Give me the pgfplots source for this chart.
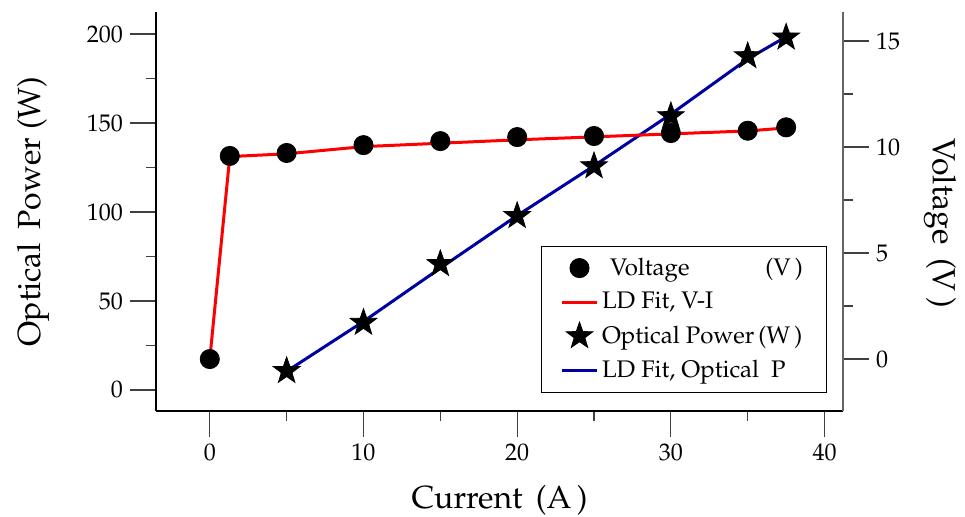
\documentclass[border=0pt]{standalone}
\usepackage[T1]{fontenc}
\usepackage{mathpazo}
\usepackage{pgfplots}
\usepackage{pgfplotstable}
\pgfplotsset{compat=1.18}

\definecolor{FitRed}{RGB}{255,0,0}
\definecolor{FitBlue}{RGB}{0,0,160}

% filled five-pointed star
\pgfdeclareplotmark{fstar}{%
  \pgfpathmoveto{\pgfpointpolar{90}{\pgfplotmarksize}}%
  \pgfpathlineto{\pgfpointpolar{126}{0.4\pgfplotmarksize}}%
  \pgfpathlineto{\pgfpointpolar{162}{\pgfplotmarksize}}%
  \pgfpathlineto{\pgfpointpolar{198}{0.4\pgfplotmarksize}}%
  \pgfpathlineto{\pgfpointpolar{234}{\pgfplotmarksize}}%
  \pgfpathlineto{\pgfpointpolar{270}{0.4\pgfplotmarksize}}%
  \pgfpathlineto{\pgfpointpolar{306}{\pgfplotmarksize}}%
  \pgfpathlineto{\pgfpointpolar{342}{0.4\pgfplotmarksize}}%
  \pgfpathlineto{\pgfpointpolar{18}{\pgfplotmarksize}}%
  \pgfpathlineto{\pgfpointpolar{54}{0.4\pgfplotmarksize}}%
  \pgfpathclose
  \pgfusepathqfillstroke}

\pgfplotstableread{
cur volt
0    0
1.3  9.58
5    9.72
10   10.09
15   10.28
20   10.47
25   10.52
30   10.66
35   10.77
37.5 10.93
}\voltdata

\pgfplotstableread{
cur volt
0    0
1.3  9.55
5    9.68
10   10.02
15   10.18
20   10.34
25   10.48
30   10.62
35   10.76
37.5 10.90
}\voltfit

\pgfplotstableread{
cur pow
5    10.7
10   37.8
15   70.8
20   97.8
25   125.8
30   153.9
35   187.6
37.5 198.1
}\powdata

\pgfplotstableread{
cur pow
5    10.5
10   38.5
15   68.5
20   98.0
25   126.0
30   155.0
35   186.0
37.5 198.5
}\powfit

\begin{document}
\begin{tikzpicture}[font=\fontsize{12}{14}\selectfont]
\pgfplotsset{
  common/.style={
    scale only axis, width=343.5pt, height=199.5pt,
    xmin=-3.5, xmax=41.2,
    tick align=outside, major tick length=13pt, minor tick length=5pt,
    tick style={black!75, line width=0.6pt},
    tick label style={font=\fontsize{12}{14}\selectfont},
  }
}
\begin{axis}[common,
  axis x line*=bottom, axis y line*=left,
  axis line style={-, line width=0.6pt},
  ymin=-11.8, ymax=212.4,
  xtick={0,10,20,30,40}, minor x tick num=1,
  ytick={0,50,100,150,200}, minor y tick num=1,
  xlabel={Current \,(A\,)},
  ylabel={Optical \,Power (W)},
  every axis x label/.style={at={(axis description cs:0.5,0)}, yshift=-44.5pt,
    anchor=center, font=\fontsize{16}{18}\selectfont},
  every axis y label/.style={at={(axis description cs:0,0.5)}, xshift=-61.5pt,
    rotate=90, anchor=center, font=\fontsize{16}{18}\selectfont},
]
\addplot[only marks, mark=fstar, mark size=7pt, black] table[x=cur,y=pow] \powdata;
\addplot[FitBlue, line width=1.5pt] table[x=cur,y=pow] \powfit;
\coordinate (SW) at (rel axis cs:0,0);
\coordinate (NE) at (rel axis cs:1,1);
\end{axis}
\begin{axis}[common,
  axis y line*=right, axis x line=none,
  axis line style={-, black!60, line width=0.6pt},
  ymin=-2.45, ymax=16.37,
  ytick={0,5,10,15}, minor y tick num=1,
  ylabel={Voltage \,(V\,)},
  every axis y label/.style={at={(axis description cs:1,0.47)}, xshift=48.5pt,
    rotate=-90, anchor=center, font=\fontsize{16}{18}\selectfont},
  legend style={at={(axis description cs:0.977,0.045)}, anchor=south east,
    draw=black, thin, fill=white, row sep=3pt, inner xsep=10pt, inner ysep=4pt,
    font=\fontsize{12}{14}\selectfont},
  legend cell align=left,
]
\addplot[only marks, mark=*, mark size=4.8pt, black] table[x=cur,y=volt] \voltdata;
\addlegendentry{\hspace*{4pt}Voltage\hspace*{38pt}(V\,)}
\addplot[FitRed, line width=1.5pt] table[x=cur,y=volt] \voltfit;
\addlegendentry{LD Fit, V-I}
\addlegendimage{only marks, mark=fstar, mark size=7pt, black}
\addlegendentry{Optical Power\,(W\,)}
\addlegendimage{FitBlue, line width=1.5pt}
\addlegendentry{LD Fit, Optical \ P}
\end{axis}
\pgfresetboundingbox
\path ([shift={(-78pt,-53pt)}]SW) rectangle ([shift={(61pt,6pt)}]NE);
\end{tikzpicture}
\end{document}
